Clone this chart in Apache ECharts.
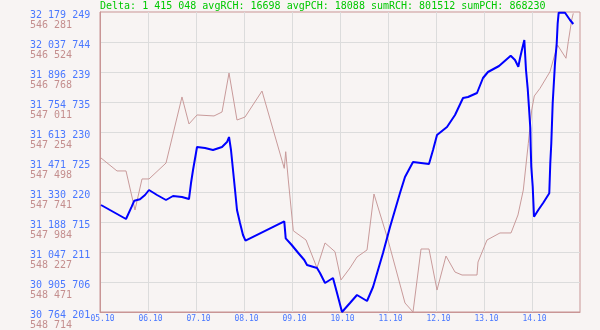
<!DOCTYPE html>
<html><head><meta charset="utf-8">
<script src="https://cdn.jsdelivr.net/npm/echarts@6/dist/echarts.min.js"></script>
<style>html,body{margin:0;padding:0;background:#f8f4f3}#c{width:600px;height:330px}</style>
</head><body><div id="c"></div>
<script>
const titleText = 'Delta: 1 415 048 avgRCH: 16698 avgPCH: 18088 sumRCH: 801512 sumPCH: 868230';
const xLabels = ['05.10','06.10','07.10','08.10','09.10','10.10','11.10','12.10','13.10','14.10'];
// tick labels, bottom to top
const rchTicks = ['30 764 201','30 905 706','31 047 211','31 188 715','31 330 220','31 471 725','31 613 230','31 754 735','31 896 239','32 037 744','32 179 249'];
const pchTicks = ['548 714','548 471','548 227','547 984','547 741','547 498','547 254','547 011','546 768','546 524','546 281'];
const rchMin = 30764201, rchMax = 32179249;
const pchMin = 546281, pchMax = 548714;

// RCH (blue) : day of October, value
const rchDays = [5.021,5.542,5.660,5.715,5.833,5.938,6.021,6.188,6.375,6.521,6.708,6.854,6.896,6.938,7.0,7.021,7.188,7.354,7.542,7.646,7.688,7.729,7.771,7.813,7.854,7.917,7.979,8.031,8.839,8.869,8.994,9.131,9.256,9.313,9.521,9.583,9.688,9.854,9.938,10.042,10.208,10.354,10.563,10.688,10.896,11.042,11.25,11.354,11.521,11.854,11.938,12.021,12.229,12.396,12.563,12.667,12.854,12.979,13.083,13.313,13.556,13.646,13.715,13.75,13.798,13.840,13.860,13.875,13.910,13.938,13.965,13.973,13.985,14.015,14.042,14.131,14.235,14.360,14.381,14.402,14.431,14.479,14.515,14.535,14.556,14.688,14.792,14.860];
const rchValues = [31268901,31202865,31260909,31289183,31295787,31316069,31339653,31316069,31292485,31311352,31306635,31297202,31372671,31433990,31514176,31542477,31537760,31528326,31542477,31566061,31589645,31528326,31433990,31339653,31245316,31183997,31127396,31100509,31192017,31111830,31080227,31042493,31009475,30985891,30971741,30948156,30900988,30924572,30853820,30764201,30806651,30844386,30816085,30882121,31042493,31165131,31325503,31400972,31471724,31462291,31528326,31599079,31636813,31693415,31773602,31778318,31797186,31867938,31896239,31924540,31973123,31952841,31921238,31960860,32008028,32047178,32050479,31905673,31819355,31725018,31630681,31543892,31449555,31355218,31213714,31245316,31279749,31324088,31465592,31559929,31748602,31937275,32031612,32125949,32175947,32175947,32141514,32122647];

// PCH (pink) : day of October, value
const pchDays = [5.021,5.354,5.542,5.729,5.875,6.021,6.375,6.708,6.854,7.021,7.375,7.542,7.688,7.854,8.021,8.375,8.839,8.869,8.923,9.027,9.292,9.521,9.688,9.896,10.021,10.208,10.354,10.563,10.708,11.0,11.354,11.521,11.688,11.854,12.021,12.208,12.396,12.542,12.854,12.875,13.063,13.333,13.563,13.708,13.819,13.923,13.994,14.048,14.167,14.375,14.531,14.708,14.756,14.827,14.860];
const pchValues = [547465,547570,547570,547887,547635,547635,547506,546970,547189,547116,547124,547092,546776,547157,547133,546922,547549,547414,547643,548055,548130,548357,548154,548225,548454,548357,548268,548211,547757,548130,548641,548714,548203,548203,548536,548260,548390,548414,548414,548309,548130,548073,548073,547927,547725,547346,547076,546962,546900,546765,546549,546656,546522,546346,546292];

const yLabels = rchTicks.map((r, i) => '{a|' + r + '}\n{b|' + pchTicks[i] + '}');
const FONT = 'DejaVu Sans Mono';

const chart = echarts.init(document.getElementById('c'), null, {renderer: 'canvas'});
chart.setOption({
  backgroundColor: '#f8f4f3',
  animation: false,
  title: {
    text: titleText, left: 100, top: 0, padding: 0,
    textStyle: {color: '#00c800', fontFamily: FONT, fontSize: 10, fontWeight: 'normal', lineHeight: 12}
  },
  grid: {left: 100, top: 12, right: 20, bottom: 18, show: true, borderColor: '#c99595', borderWidth: 1,
         backgroundColor: 'transparent', containLabel: false, outerBoundsMode: 'none'},
  xAxis: {
    type: 'value', min: 5, max: 15, interval: 1,
    axisLine: {show: true, lineStyle: {color: '#c99595'}},
    axisTick: {show: false},
    splitLine: {show: true, showMinLine: false, showMaxLine: false, lineStyle: {color: '#dcdcdc', width: 1}},
    axisLabel: {
      margin: 3, color: '#4a78ff', fontFamily: FONT, fontSize: 8, padding: [0, 0, 0, 5],
      showMinLabel: true, showMaxLabel: true,
      formatter: v => xLabels[Math.round(v - 5)] || ''
    }
  },
  yAxis: [
    {type: 'value', min: rchMin, max: rchMax, show: false, splitLine: {show: false}},
    {type: 'value', min: pchMin, max: pchMax, inverse: true, show: false, splitLine: {show: false}},
    {
      type: 'category', data: yLabels, boundaryGap: false, position: 'left',
      axisLine: {show: true, lineStyle: {color: '#c99595'}},
      axisTick: {show: false},
      splitLine: {show: true, showMinLine: false, showMaxLine: false, lineStyle: {color: '#dcdcdc', width: 1}},
      axisLabel: {
        interval: 0, showMinLabel: true, showMaxLabel: true, hideOverlap: false,
        align: 'left', margin: 70, verticalAlign: 'middle', padding: [16, 0, 0, 0],
        fontFamily: FONT, fontSize: 10, lineHeight: 10,
        rich: {
          a: {color: '#4a78ff', fontFamily: FONT, fontSize: 10, lineHeight: 10, align: 'left'},
          b: {color: '#c48e8e', fontFamily: FONT, fontSize: 10, lineHeight: 10, align: 'left'}
        }
      }
    }
  ],
  series: [
    {
      name: 'PCH', type: 'line', yAxisIndex: 1, showSymbol: false, symbol: 'none',
      lineStyle: {color: '#c89a9a', width: 1}, z: 2,
      data: pchDays.map((d, i) => [d, pchValues[i]])
    },
    {
      name: 'RCH', type: 'line', yAxisIndex: 0, showSymbol: false, symbol: 'none',
      lineStyle: {color: '#0000ff', width: 2}, z: 3,
      data: rchDays.map((d, i) => [d, rchValues[i]])
    }
  ]
});
</script>
</body></html>
